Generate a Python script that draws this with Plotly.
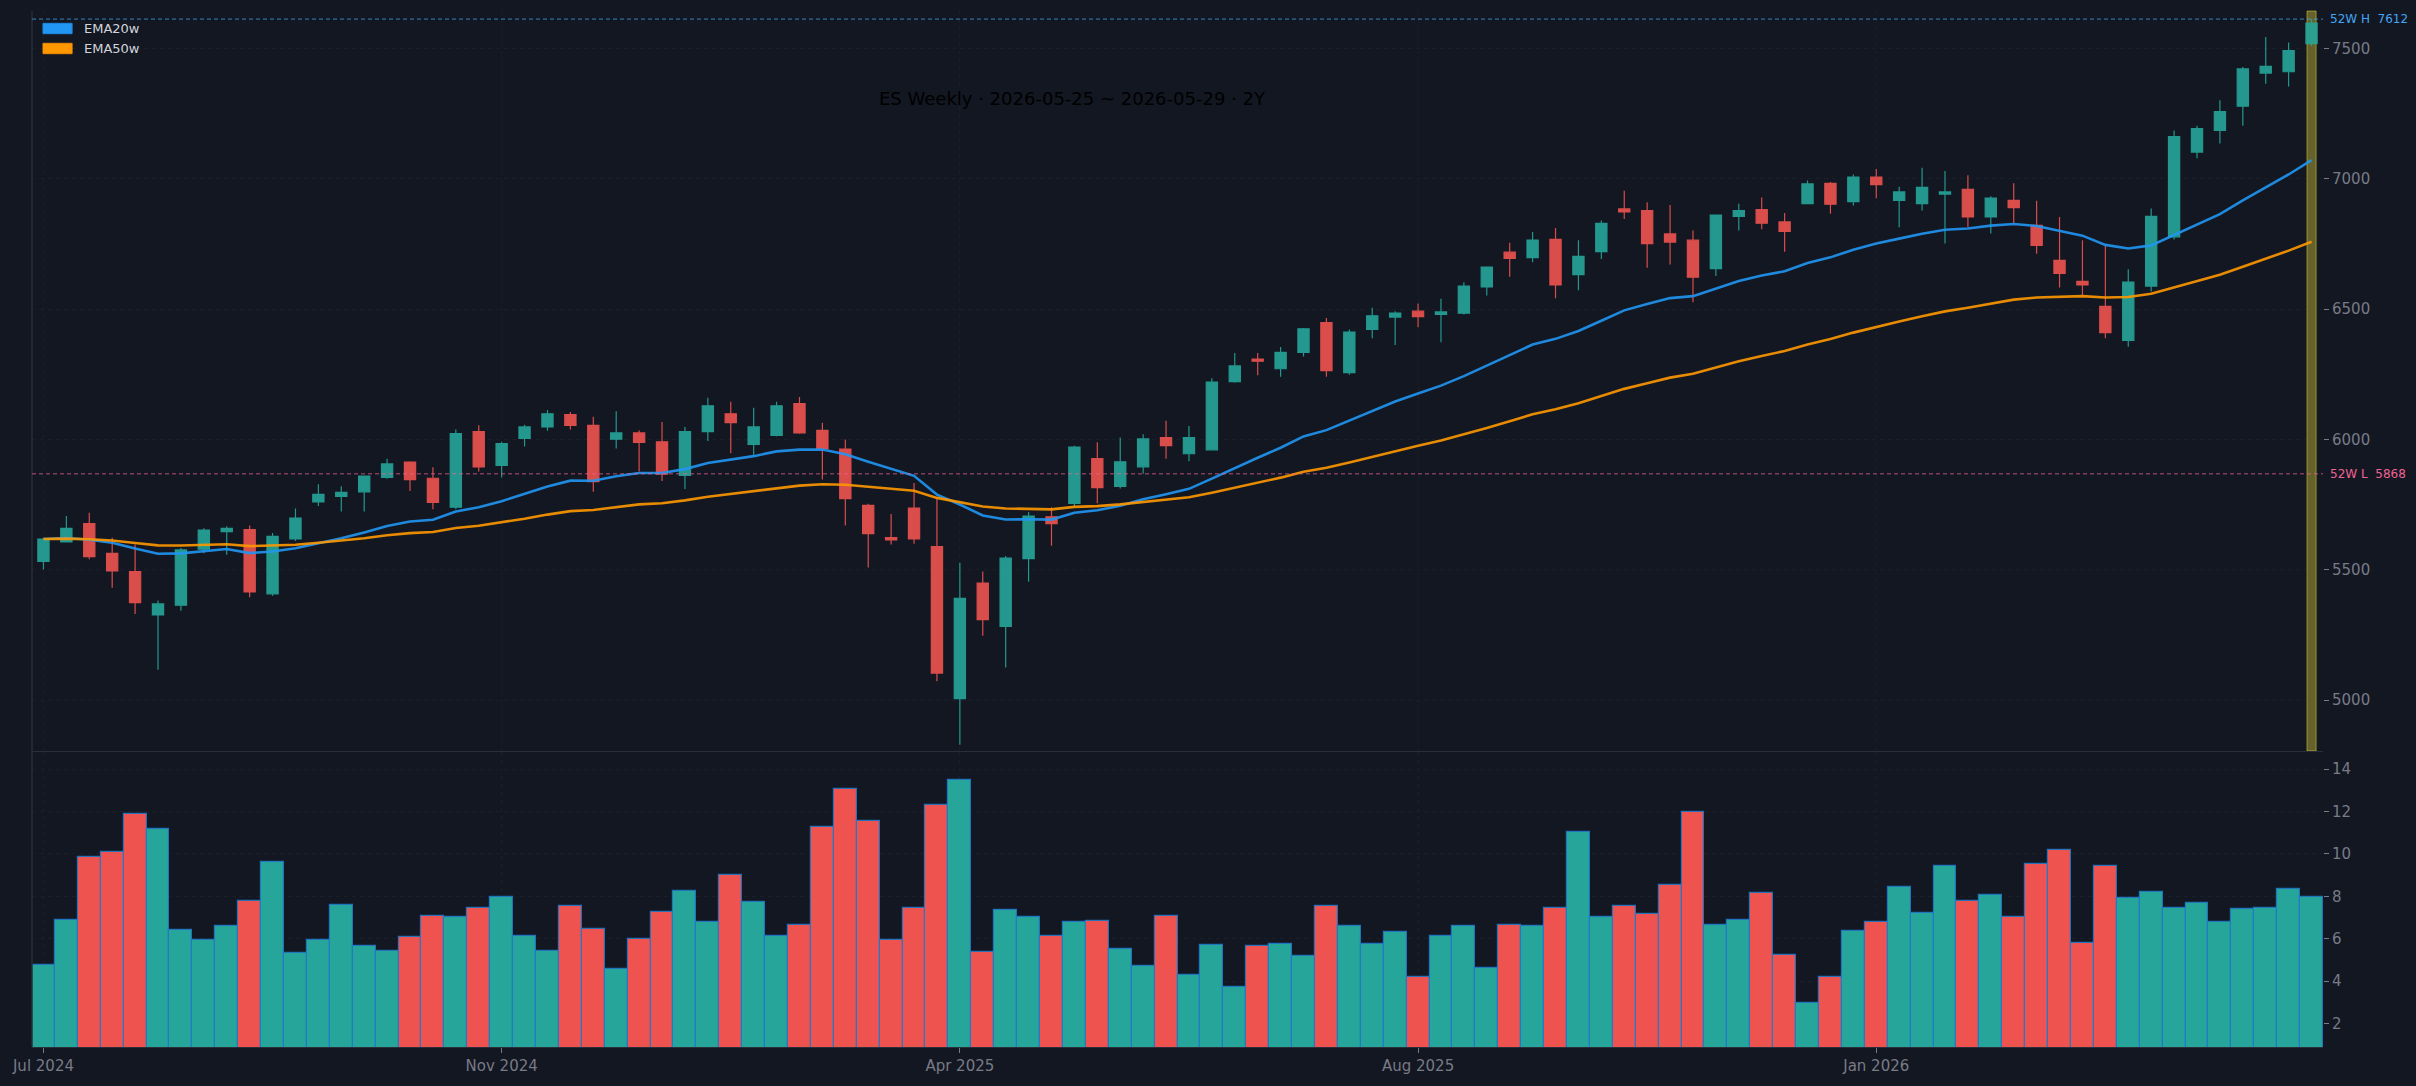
import pandas as pd
import plotly.graph_objects as go

# ---------------- data ----------------
start_week = "2024-07-01"
n_weeks = 100
week_dates = pd.date_range(start_week, periods=n_weeks, freq="W-MON")

opens = [5532, 5607, 5677, 5563, 5493, 5327, 5364, 5579, 5646, 5654,
         5408, 5618, 5760, 5781, 5799, 5854, 5913, 5851, 5740, 6030,
         5900, 6004, 6048, 6095, 6054, 6001, 6025, 5991, 5862, 6030,
         6098, 5981, 6015, 6137, 6035, 5963, 5747, 5623, 5737, 5589,
         5006, 5449, 5283, 5543, 5703, 5755, 5926, 5820, 5895, 6007,
         5945, 5960, 6222, 6308, 6271, 6334, 6448, 6256, 6422, 6469,
         6492, 6479, 6484, 6585, 6718, 6697, 6767, 6632, 6720, 6884,
         6878, 6788, 6764, 6655, 6855, 6881, 6834, 6904, 6982, 6912,
         7006, 6917, 6904, 6941, 6959, 6853, 6917, 6821, 6687, 6606,
         6510, 6380, 6588, 6777, 7102, 7185, 7278, 7405, 7410, 7518]
highs = [5623, 5706, 5719, 5623, 5597, 5382, 5584, 5659, 5667, 5670,
         5641, 5735, 5828, 5820, 5862, 5926, 5916, 5893, 6038, 6054,
         5991, 6056, 6113, 6105, 6087, 6108, 6035, 6067, 6048, 6160,
         6144, 6121, 6144, 6163, 6064, 6000, 5753, 5714, 5833, 5779,
         5527, 5493, 5553, 5722, 5740, 5976, 5989, 6007, 6020, 6072,
         6051, 6235, 6331, 6331, 6354, 6427, 6466, 6422, 6505, 6492,
         6521, 6539, 6603, 6663, 6754, 6795, 6811, 6764, 6840, 6954,
         6910, 6899, 6801, 6863, 6904, 6928, 6868, 6993, 6987, 7016,
         7037, 6969, 7042, 7029, 7013, 6933, 6982, 6915, 6853, 6764,
         6746, 6653, 6886, 7185, 7203, 7301, 7428, 7543, 7522, 7612]
lows = [5501, 5605, 5540, 5431, 5330, 5117, 5343, 5563, 5558, 5395,
        5400, 5610, 5745, 5724, 5724, 5849, 5802, 5732, 5732, 5877,
        5854, 5973, 6033, 6038, 5799, 5965, 5877, 5841, 5810, 5994,
        5947, 5939, 6012, 6022, 5846, 5670, 5509, 5597, 5600, 5073,
        4829, 5247, 5125, 5454, 5592, 5740, 5755, 5812, 5868, 5926,
        5916, 5958, 6217, 6246, 6240, 6318, 6240, 6248, 6388, 6362,
        6430, 6373, 6479, 6552, 6624, 6679, 6541, 6572, 6692, 6845,
        6658, 6671, 6526, 6627, 6801, 6806, 6720, 6902, 6865, 6897,
        6925, 6814, 6878, 6751, 6814, 6790, 6829, 6712, 6583, 6552,
        6388, 6355, 6567, 6767, 7078, 7135, 7203, 7364, 7353, 7509]
closes = [5618, 5659, 5550, 5496, 5374, 5369, 5576, 5652, 5659, 5415,
          5628, 5698, 5789, 5797, 5859, 5906, 5846, 5758, 6022, 5895,
          5984, 6048, 6098, 6054, 5838, 6025, 5989, 5867, 6030, 6129,
          6064, 6048, 6129, 6025, 5965, 5773, 5639, 5615, 5618, 5104,
          5390, 5309, 5545, 5706, 5677, 5971, 5815, 5914, 6002, 5976,
          6007, 6220, 6282, 6300, 6334, 6424, 6264, 6412, 6474, 6484,
          6471, 6489, 6588, 6661, 6694, 6764, 6593, 6702, 6829, 6873,
          6751, 6757, 6622, 6860, 6878, 6829, 6798, 6980, 6902, 7006,
          6977, 6949, 6967, 6949, 6853, 6925, 6889, 6744, 6637, 6593,
          6409, 6603, 6855, 7161, 7192, 7257, 7421, 7431, 7491, 7597]
volumes = [4.77, 6.87, 9.83, 10.08, 11.87, 11.17, 6.39, 5.95, 6.58, 7.79,
           9.61, 5.31, 5.95, 7.57, 5.66, 5.41, 6.07, 7.09, 7.03, 7.44,
           7.95, 6.11, 5.41, 7.54, 6.46, 4.58, 6.01, 7.28, 8.24, 6.77,
           9.00, 7.73, 6.11, 6.65, 11.26, 13.08, 11.55, 5.95, 7.44, 12.31,
           13.46, 5.37, 7.35, 7.03, 6.11, 6.77, 6.84, 5.50, 4.71, 7.09,
           4.29, 5.69, 3.72, 5.66, 5.76, 5.18, 7.54, 6.58, 5.76, 6.30,
           4.20, 6.11, 6.58, 4.61, 6.65, 6.58, 7.47, 11.01, 7.03, 7.54,
           7.16, 8.52, 11.99, 6.65, 6.87, 8.14, 5.21, 2.99, 4.20, 6.36,
           6.77, 8.43, 7.19, 9.45, 7.76, 8.05, 7.03, 9.51, 10.18, 5.82,
           9.42, 7.92, 8.21, 7.47, 7.67, 6.77, 7.38, 7.44, 8.33, 7.95]
tick_index = [0, 20, 40, 60, 80]
title_text = "ES Weekly · 2026-05-25 ~ 2026-05-29 · 2Y"

# ---------------- derived ----------------
idx = list(range(n_weeks))
close_s = pd.Series(closes, dtype=float)
ema20 = close_s.ewm(span=20, adjust=False).mean()
ema50 = close_s.ewm(span=50, adjust=False).mean()
hi52 = max(highs[-52:])
lo52 = min(lows[-52:])
tick_text = [week_dates[i].strftime("%b %Y") for i in tick_index]
hover = [d.strftime("%Y-%m-%d") for d in week_dates]

UP, DN = "#26a69a", "#ef5350"
BG = "#131722"
GRID = "rgba(120,123,134,0.07)"
AX = "#2a2e39"
TXT = "#787b86"
FONT = "DejaVu Sans"
vol_colors = [UP if c >= o else DN for o, c in zip(opens, closes)]

fig = go.Figure()
fig.add_trace(go.Candlestick(
    x=idx, open=opens, high=highs, low=lows, close=closes, text=hover,
    increasing=dict(line=dict(color=UP, width=1.2), fillcolor=UP),
    decreasing=dict(line=dict(color=DN, width=1.2), fillcolor=DN),
    opacity=0.9, showlegend=False, xaxis="x", yaxis="y", name="ES"))
fig.add_trace(go.Scatter(x=idx, y=ema20, mode="lines", name="EMA20w",
                         line=dict(color="#2196f3", width=2.6), opacity=0.9,
                         showlegend=False, xaxis="x", yaxis="y"))
fig.add_trace(go.Scatter(x=idx, y=ema50, mode="lines", name="EMA50w",
                         line=dict(color="#ff9800", width=2.6), opacity=0.9,
                         showlegend=False, xaxis="x", yaxis="y"))
fig.add_trace(go.Bar(x=idx, y=volumes, marker=dict(color=vol_colors,
                     line=dict(color="rgba(33,120,200,0.9)", width=1.2)),
                     showlegend=False, xaxis="x2", yaxis="y2", name="Volume"))

tickfont = dict(family=FONT, size=15, color=TXT)
fig.update_layout(
    width=2416, height=1086,
    paper_bgcolor=BG, plot_bgcolor=BG,
    margin=dict(l=32, r=93, t=11, b=39),
    font=dict(family=FONT, color=TXT),
    bargap=0,
    title=dict(text=title_text, x=0.4437, y=0.909, xref="container", yref="container",
               xanchor="center", yanchor="middle",
               font=dict(family=FONT, size=18, color="#000000")),
    xaxis=dict(domain=[0, 1], range=[-0.5, 99.5], anchor="y", matches="x2",
               tickvals=tick_index, showticklabels=False, ticks="",
               showgrid=True, gridcolor=GRID, griddash="4px,4px",
               showline=True, linecolor=AX, zeroline=False,
               rangeslider=dict(visible=False)),
    xaxis2=dict(domain=[0, 1], range=[-0.5, 99.5], anchor="y2",
                tickvals=tick_index, ticktext=tick_text, ticks="outside",
                ticklen=5, tickcolor=TXT, tickfont=tickfont,
                showgrid=True, gridcolor=GRID, griddash="4px,4px",
                showline=True, linecolor=AX, zeroline=False),
    yaxis=dict(domain=[0.2857, 1], range=[4805, 7643], side="right", anchor="x",
               tick0=5000, dtick=500, ticks="outside", ticklen=5, tickcolor=TXT,
               tickfont=tickfont, showgrid=True, gridcolor=GRID, griddash="4px,4px",
               zeroline=False, showline=False, automargin=False),
    yaxis2=dict(domain=[0, 0.2847], range=[0.9, 14.8], side="right", anchor="x2",
                tick0=0, dtick=2, ticks="outside", ticklen=5, tickcolor=TXT,
                tickfont=tickfont, showgrid=True, gridcolor=GRID, griddash="4px,4px",
                zeroline=False, showline=False, automargin=False),
)

shapes = [
    # left frame line
    dict(type="line", xref="paper", yref="paper", x0=0, x1=0, y0=0, y1=1,
         line=dict(color=AX, width=1.5)),
    # current-week highlight
    dict(type="rect", xref="x", yref="y domain", x0=98.8, x1=99.2, y0=0, y1=1,
         fillcolor="rgba(255,235,59,0.35)", line=dict(color="rgba(255,235,59,0.45)", width=1),
         layer="below"),
    # 52-week high / low
    dict(type="line", xref="x domain", yref="y", x0=0, x1=1, y0=hi52, y1=hi52,
         line=dict(color="rgba(66,165,245,0.75)", width=1, dash="4px,3px")),
    dict(type="line", xref="x domain", yref="y", x0=0, x1=1, y0=lo52, y1=lo52,
         line=dict(color="rgba(240,98,146,0.75)", width=1, dash="4px,3px")),
    # legend swatches
    dict(type="rect", xref="paper", yref="paper", x0=0.0048, x1=0.0175, y0=0.9781, y1=0.9881,
         fillcolor="#2196f3", line=dict(color="#1e88e5", width=1)),
    dict(type="rect", xref="paper", yref="paper", x0=0.0048, x1=0.0175, y0=0.9588, y1=0.9688,
         fillcolor="#ff9800", line=dict(color="#f08c00", width=1)),
]
annotations = [
    dict(text=f"52W H  {hi52}", xref="paper", yref="y", x=1.002, y=hi52,
         xanchor="left", yanchor="middle", showarrow=False,
         font=dict(family=FONT, size=12, color="#42a5f5")),
    dict(text=f"52W L  {lo52}", xref="paper", yref="y", x=1.002, y=lo52,
         xanchor="left", yanchor="middle", showarrow=False,
         font=dict(family=FONT, size=12, color="#f06292")),
    dict(text="EMA20w", xref="paper", yref="paper", x=0.0218, y=0.9831,
         xanchor="left", yanchor="middle", showarrow=False,
         font=dict(family=FONT, size=13, color="#d1d4dc")),
    dict(text="EMA50w", xref="paper", yref="paper", x=0.0218, y=0.9638,
         xanchor="left", yanchor="middle", showarrow=False,
         font=dict(family=FONT, size=13, color="#d1d4dc")),
]
fig.update_layout(shapes=shapes, annotations=annotations)

fig.write_html("out.html")
